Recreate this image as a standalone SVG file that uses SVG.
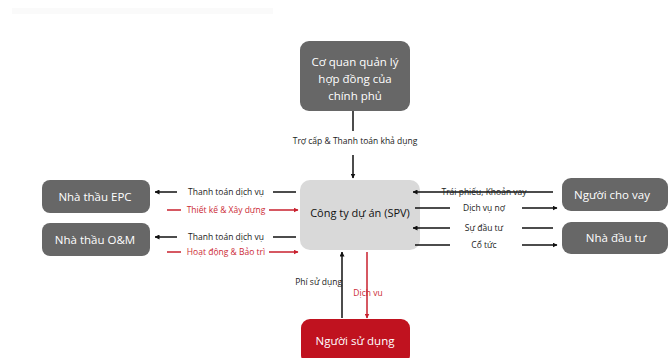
<svg xmlns="http://www.w3.org/2000/svg" width="671" height="358" viewBox="0 0 671 358">
<style>
text{font-family:"Open Sans","Noto Sans","Liberation Sans",sans-serif;}
.bt{fill:#fff;font-size:11.5px;text-anchor:middle;}
.lb{font-size:8.5px;text-anchor:middle;fill:#222;}
.lr{font-size:8.5px;text-anchor:middle;fill:#cc2a36;}
.k{stroke:#111;stroke-width:1.5;fill:none;}
.r{stroke:#c8202e;stroke-width:1.5;fill:none;}
.ka{marker-end:url(#ak);}
.ra{marker-end:url(#ar);}
</style>
<defs>
<marker id="ak" viewBox="0 0 10 10" refX="9" refY="5" markerWidth="5" markerHeight="5" orient="auto" markerUnits="userSpaceOnUse"><path d="M0,0 L10,5 L0,10 z" fill="#111"/></marker>
<marker id="ar" viewBox="0 0 10 10" refX="9" refY="5" markerWidth="5" markerHeight="5" orient="auto" markerUnits="userSpaceOnUse"><path d="M0,0 L10,5 L0,10 z" fill="#c8202e"/></marker>
</defs>
<rect width="671" height="358" fill="#fff"/>
<rect x="12" y="8" width="261" height="6" fill="#fafafa"/>
<g id="gov"><rect x="300" y="41" width="110" height="70" rx="9" fill="#676767"/>
<text class="bt" x="355" y="66">Cơ quan quản lý</text>
<text class="bt" x="355" y="83">hợp đồng của</text>
<text class="bt" x="355" y="100">chính phủ</text></g>
<g id="spv"><rect x="300" y="180" width="120" height="70" rx="10" fill="#d9d9d9"/>
<text x="360" y="217" font-size="11" text-anchor="middle" fill="#111">Công ty dự án (SPV)</text></g>
<g id="epc"><rect x="42" y="180" width="108" height="33" rx="8" fill="#676767"/>
<text class="bt" x="95" y="201">Nhà thầu EPC</text></g>
<g id="om"><rect x="42" y="223" width="108" height="33" rx="8" fill="#676767"/>
<text class="bt" x="95" y="244">Nhà thầu O&amp;M</text></g>
<g id="lender"><rect x="562" y="178" width="106" height="33" rx="9" fill="#676767"/>
<text class="bt" x="612" y="199">Người cho vay</text></g>
<g id="investor"><rect x="562" y="222" width="106" height="32" rx="9" fill="#676767"/>
<text class="bt" x="616" y="242">Nhà đầu tư</text></g>
<g id="user"><rect x="301" y="319" width="109" height="45" rx="9" fill="#c0121f"/>
<text class="bt" x="355" y="345">Người sử dụng</text></g>
<g id="connectors">
<line class="k" x1="353" y1="111" x2="353" y2="131"/>
<text class="lb" x="355" y="144">Trợ cấp &amp; Thanh toán khả dụng</text>
<line class="k ka" x1="353" y1="155" x2="353" y2="178"/>
<line class="k ka" x1="177" y1="192" x2="155" y2="192"/>
<text class="lb" x="226" y="195">Thanh toán dịch vụ</text>
<line class="k" x1="273" y1="192" x2="296" y2="192"/>
<line class="r" x1="167" y1="210" x2="181" y2="210"/>
<text class="lr" x="226" y="213">Thiết kế &amp; Xây dựng</text>
<line class="r ra" x1="269" y1="210" x2="298" y2="210"/>
<line class="k ka" x1="177" y1="237" x2="155" y2="237"/>
<text class="lb" x="226" y="240">Thanh toán dịch vụ</text>
<line class="k" x1="273" y1="237" x2="296" y2="237"/>
<line class="r" x1="167" y1="252" x2="181" y2="252"/>
<text class="lr" x="226" y="255">Hoạt động &amp; Bảo trì</text>
<line class="r ra" x1="269" y1="252" x2="298" y2="252"/>
<line class="k ka" x1="553" y1="192" x2="413" y2="192"/>
<text class="lb" x="484" y="195">Trái phiếu, Khoản vay</text>
<line class="k" x1="415" y1="208" x2="450" y2="208"/>
<text class="lb" x="484" y="211">Dịch vụ nợ</text>
<line class="k ka" x1="522" y1="208" x2="557" y2="208"/>
<line class="k ka" x1="450" y1="228" x2="413" y2="228"/>
<text class="lb" x="484" y="231">Sự đầu tư</text>
<line class="k" x1="522" y1="228" x2="553" y2="228"/>
<line class="k" x1="415" y1="245" x2="450" y2="245"/>
<text class="lb" x="484" y="248">Cổ tức</text>
<line class="k ka" x1="522" y1="245" x2="557" y2="245"/>
<line class="k ka" x1="342" y1="318" x2="342" y2="252"/>
<text class="lb" x="342" y="285" style="text-anchor:end">Phí sử dụng</text>
<line class="r ra" x1="367" y1="252" x2="367" y2="318"/>
<text class="lr" x="368" y="296">Dịch vu</text>
</g>
</svg>
